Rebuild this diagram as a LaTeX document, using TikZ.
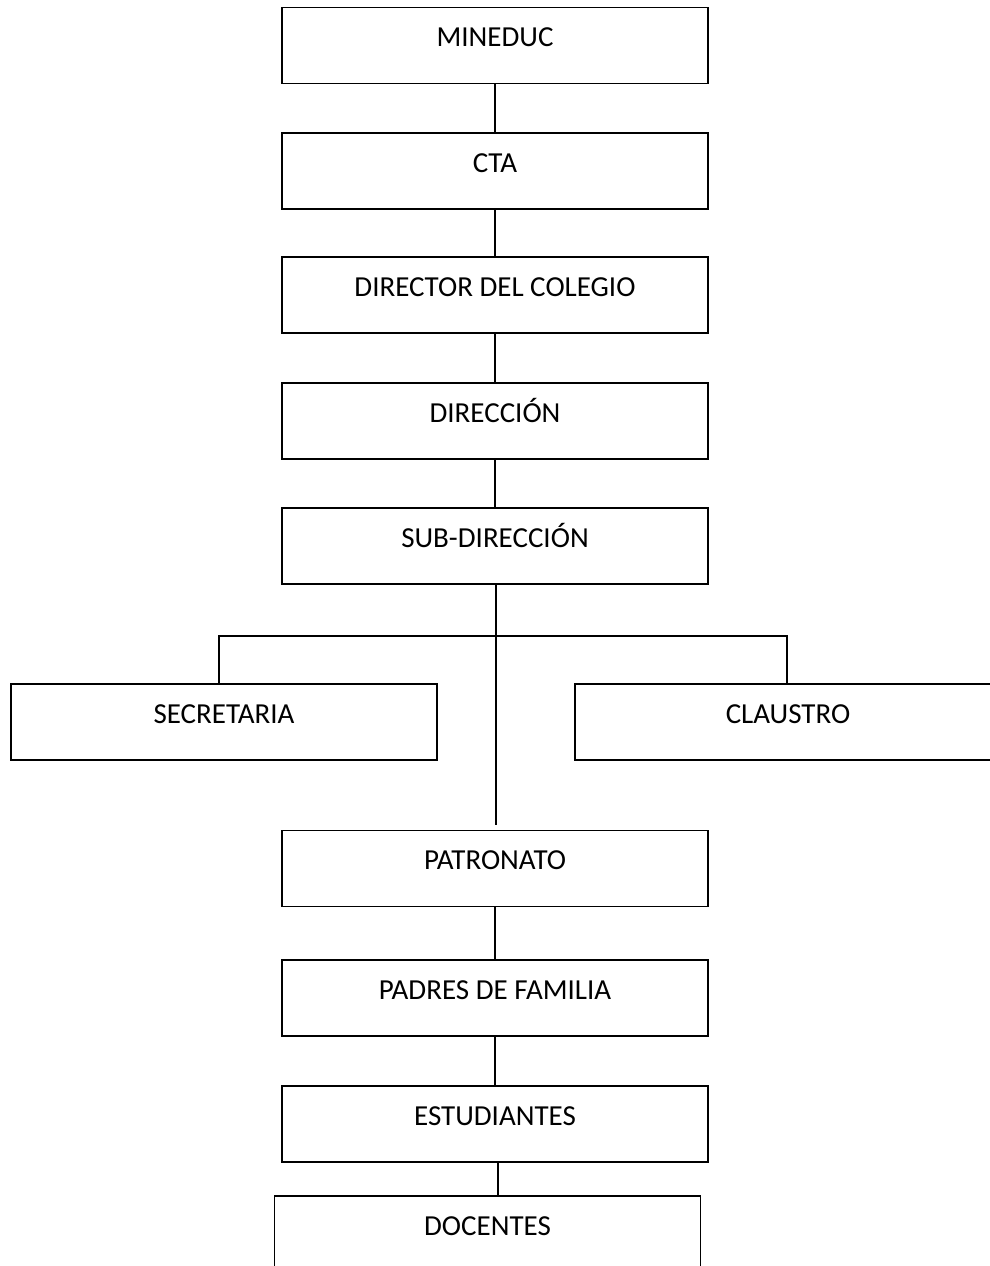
\documentclass[tikz,border=0pt]{standalone}
\usepackage{fontspec}
\setmainfont{Carlito}
\begin{document}
\begin{tikzpicture}[x=1pt,y=-1pt,
  orgbox/.style={draw=black, line width=1.4pt, rectangle, inner sep=0pt,
    minimum width=426pt, text height=39pt, text depth=37pt,
    font=\fontsize{29}{32}\selectfont},
  conn/.style={draw=black, line width=1.2pt}]
\useasboundingbox (0,0) rectangle (990,1266);
\clip (0,0) rectangle (990,1266);
\node[orgbox] (mineduc) at (495,45.5) {MINEDUC};
\node[orgbox] (cta) at (495,171) {CTA};
\node[orgbox] (director) at (495,295) {DIRECTOR DEL COLEGIO};
\node[orgbox] (direccion) at (495,421) {DIRECCIÓN};
\node[orgbox] (sub) at (495,546) {SUB-DIRECCIÓN};
\node[orgbox] (secretaria) at (224,722) {SECRETARIA};
\node[orgbox] (claustro) at (788,722) {CLAUSTRO};
\node[orgbox] (patronato) at (495,868.5) {PATRONATO};
\node[orgbox] (padres) at (495,998) {PADRES DE FAMILIA};
\node[orgbox] (estudiantes) at (495,1124) {ESTUDIANTES};
\node[orgbox] (docentes) at (487.5,1234) {DOCENTES};
\coordinate (branch) at (496,636);
\coordinate (subend) at (496,825);
\draw[conn] (mineduc.south) -- (cta.north);
\draw[conn] (cta.south) -- (director.north);
\draw[conn] (director.south) -- (direccion.north);
\draw[conn] (direccion.south) -- (sub.north);
\draw[conn] ([xshift=1pt]sub.south) -- (subend);
\draw[conn] (secretaria.north -| 219,0) -- (219,636) -- (787,636) -- (claustro.north -| 787,0);
\draw[conn] (patronato.south) -- (padres.north);
\draw[conn] (padres.south) -- (estudiantes.north);
\draw[conn] ([xshift=3pt]estudiantes.south) -- ([xshift=3pt]estudiantes.south |- docentes.north);
\end{tikzpicture}
\end{document}
